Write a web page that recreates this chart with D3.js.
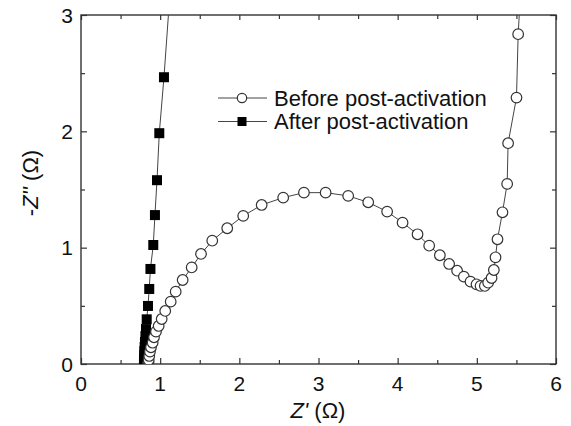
<!DOCTYPE html>
<html>
<head>
<meta charset="utf-8">
<script src="https://cdn.jsdelivr.net/npm/d3@7"></script>
<style>
body { margin: 0; background: #fff; }
text { font-family: "Liberation Sans", Arial, sans-serif; fill: #111; }
</style>
</head>
<body>
<div id="chart"></div>
<script>
// Before post-activation (open circles)
var beforeX = [0.850, 0.852, 0.855, 0.862, 0.871, 0.884, 0.905, 0.922, 0.947, 0.981,
               1.019, 1.064, 1.133, 1.196, 1.284, 1.398, 1.516, 1.658, 1.847, 2.049,
               2.282, 2.554, 2.816, 3.090, 3.375, 3.628, 3.867, 4.062, 4.251, 4.398,
               4.533, 4.650, 4.751, 4.836, 4.920, 4.996, 5.047, 5.101, 5.143, 5.186,
               5.215, 5.236, 5.261, 5.324, 5.383, 5.395, 5.501, 5.522, 5.570];
var beforeY = [0.005, 0.018, 0.034, 0.069, 0.106, 0.144, 0.183, 0.230, 0.278, 0.327,
               0.387, 0.456, 0.536, 0.622, 0.722, 0.830, 0.946, 1.060, 1.167, 1.273,
               1.367, 1.430, 1.473, 1.473, 1.445, 1.390, 1.310, 1.215, 1.115, 1.017,
               0.935, 0.860, 0.802, 0.751, 0.708, 0.685, 0.671, 0.671, 0.699, 0.739,
               0.808, 0.917, 1.072, 1.304, 1.548, 1.898, 2.290, 2.835, 3.400];

// After post-activation (filled squares)
var afterX = [0.795, 0.797, 0.798, 0.800, 0.800, 0.804, 0.808, 0.814, 0.821, 0.830,
              0.846, 0.862, 0.877, 0.913, 0.934, 0.960, 0.989, 1.048, 1.120];
var afterY = [0.005, 0.026, 0.050, 0.077, 0.110, 0.146, 0.190, 0.240, 0.300, 0.384,
              0.499, 0.645, 0.817, 1.023, 1.280, 1.580, 1.984, 2.465, 3.150];

var xTicks = [0, 1, 2, 3, 4, 5, 6];
var yTicks = [0, 1, 2, 3];
var xMinor = [0.5, 1.5, 2.5, 3.5, 4.5, 5.5];
var yMinor = [0.5, 1.5, 2.5];
var legendNames = ["Before post-activation", "After post-activation"];

var W = 571, H = 426;
var margin = {left: 81, top: 15, right: 15, bottom: 62};
var w = W - margin.left - margin.right;
var h = H - margin.top - margin.bottom;

var svg = d3.select("#chart").append("svg").attr("width", W).attr("height", H);
var g = svg.append("g").attr("transform", "translate(" + margin.left + "," + margin.top + ")");

var x = d3.scaleLinear().domain([0, 6]).range([0, w]);
var y = d3.scaleLinear().domain([0, 3]).range([h, 0]);

g.append("clipPath").attr("id", "clip")
	.append("rect").attr("width", w).attr("height", h);

var axisColor = "#333";

// inward ticks on all four sides
function drawTicks(axis, transform){
	var a = g.append("g").attr("transform", transform).call(axis);
	a.select(".domain").remove();
	a.selectAll("line").attr("stroke", axisColor).attr("stroke-width", 1.2);
	a.selectAll("text").remove();
}
drawTicks(d3.axisBottom(x).tickValues(xTicks).tickSize(-6), "translate(0," + h + ")");
drawTicks(d3.axisBottom(x).tickValues(xMinor).tickSize(-4), "translate(0," + h + ")");
drawTicks(d3.axisTop(x).tickValues(xTicks).tickSize(-5), "translate(0,0)");
drawTicks(d3.axisTop(x).tickValues(xMinor).tickSize(-4), "translate(0,0)");
drawTicks(d3.axisLeft(y).tickValues(yTicks).tickSize(-6), "translate(0,0)");
drawTicks(d3.axisLeft(y).tickValues(yMinor).tickSize(-4), "translate(0,0)");
drawTicks(d3.axisRight(y).tickValues(yTicks).tickSize(-6), "translate(" + w + ",0)");
drawTicks(d3.axisRight(y).tickValues(yMinor).tickSize(-4), "translate(" + w + ",0)");

g.append("rect").attr("width", w).attr("height", h)
	.attr("fill", "none").attr("stroke", axisColor).attr("stroke-width", 1.4);

// tick labels
g.selectAll(".xlab").data(xTicks).enter().append("text")
	.attr("x", function(d){ return x(d); })
	.attr("y", h + 27)
	.attr("text-anchor", "middle")
	.style("font-size", "21px")
	.text(function(d){ return d; });
g.selectAll(".ylab").data(yTicks).enter().append("text")
	.attr("x", -8)
	.attr("y", function(d){ return y(d) + 7.5; })
	.attr("text-anchor", "end")
	.style("font-size", "21px")
	.text(function(d){ return d; });

// axis titles
var xt = svg.append("text")
	.attr("x", 318).attr("y", 418)
	.attr("text-anchor", "middle")
	.style("font-size", "22px");
xt.append("tspan").style("font-style", "italic").text("Z'");
xt.append("tspan").text(" (\u03A9)");

var yt = svg.append("text")
	.attr("transform", "translate(38,183) rotate(-90)")
	.attr("text-anchor", "middle")
	.style("font-size", "22px");
yt.append("tspan").text("-");
yt.append("tspan").style("font-style", "italic").text("Z''");
yt.append("tspan").text(" (\u03A9)");

// data
var plot = g.append("g").attr("clip-path", "url(#clip)");
var line = d3.line().x(function(d){ return x(d[0]); }).y(function(d){ return y(d[1]); });

var before = d3.zip(beforeX, beforeY);
var after = d3.zip(afterX, afterY);

plot.append("path").datum(before).attr("d", line)
	.attr("fill", "none").attr("stroke", "#444").attr("stroke-width", 1);
plot.append("path").datum(after).attr("d", line)
	.attr("fill", "none").attr("stroke", "#444").attr("stroke-width", 1);

var sq = 10;
plot.selectAll(".after").data(after).enter().append("rect")
	.attr("class", "after")
	.attr("x", function(d){ return x(d[0]) - sq / 2; })
	.attr("y", function(d){ return y(d[1]) - sq / 2; })
	.attr("width", sq).attr("height", sq)
	.attr("fill", "#000");

plot.selectAll(".before").data(before).enter().append("circle")
	.attr("class", "before")
	.attr("cx", function(d){ return x(d[0]); })
	.attr("cy", function(d){ return y(d[1]); })
	.attr("r", 5.3)
	.attr("fill", "#fff").attr("stroke", "#333").attr("stroke-width", 1.2);

// legend
var legend = svg.append("g");
legendNames.forEach(function(name, i){
	var ly = 98 + i * 23.5;
	legend.append("line").attr("x1", 218).attr("x2", 267).attr("y1", ly).attr("y2", ly)
		.attr("stroke", "#444").attr("stroke-width", 1);
	if (i == 0){
		legend.append("circle").attr("cx", 242).attr("cy", ly).attr("r", 4.7)
			.attr("fill", "#fff").attr("stroke", "#333").attr("stroke-width", 1.2);
	}else{
		legend.append("rect").attr("x", 242 - 4.5).attr("y", ly - 4.5).attr("width", 9).attr("height", 9)
			.attr("fill", "#000");
	}
	legend.append("text").attr("x", 274).attr("y", ly + 7.5)
		.style("font-size", "22px")
		.text(name);
});
</script>
</body>
</html>
